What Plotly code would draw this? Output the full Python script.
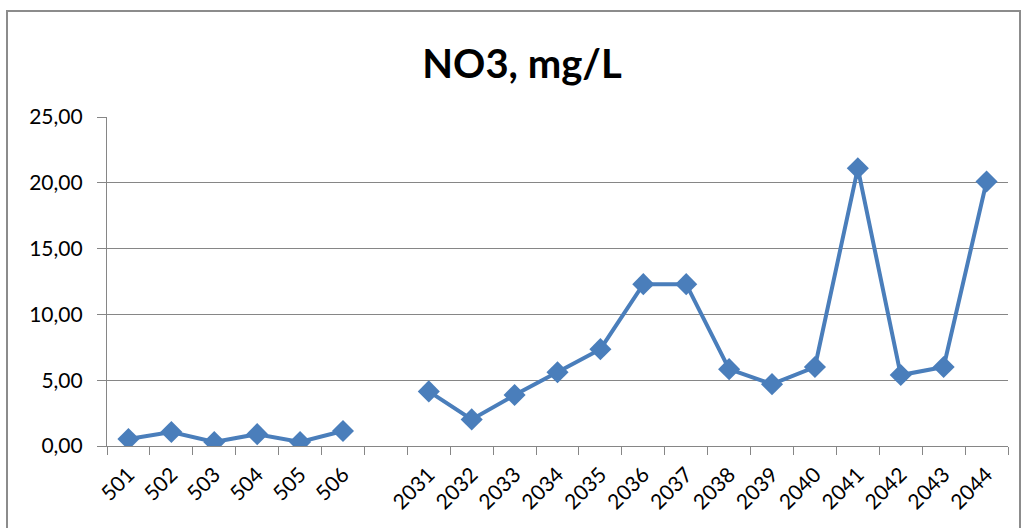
import plotly.graph_objects as go

categories = ["501", "502", "503", "504", "505", "506", " ",
              "2031", "2032", "2033", "2034", "2035", "2036", "2037",
              "2038", "2039", "2040", "2041", "2042", "2043", "2044"]
values = [0.53, 1.06, 0.30, 0.90, 0.30, 1.14, None,
          4.15, 2.02, 3.87, 5.60, 7.36, 12.30, 12.30,
          5.84, 4.70, 6.00, 21.10, 5.39, 6.00, 20.10]
y_ticks = [0, 5, 10, 15, 20, 25]

W, H = 1024, 528
ml, mr, mt, mb = 107, 16, 117, 82
pw, ph = W - ml - mr, H - mt - mb

fig = go.Figure()
fig.add_trace(go.Scatter(
    x=categories, y=values, mode="lines+markers",
    line=dict(color="#4a7ebb", width=4),
    marker=dict(symbol="diamond", size=17, color="#4a7ebb"),
    connectgaps=False, showlegend=False,
))

def px_x(p):
    return (p - ml) / pw

def px_y(p):
    return (H - mb - p) / ph

fig.add_shape(type="rect", xref="paper", yref="paper",
              x0=px_x(7), x1=px_x(1020), y0=px_y(560), y1=px_y(11),
              line=dict(color="#8c8c8c", width=2), layer="below")

FONT = "Lato, Open Sans, sans-serif"
fig.update_layout(
    width=W, height=H,
    margin=dict(l=ml, r=mr, t=mt, b=mb),
    paper_bgcolor="white", plot_bgcolor="white",
    separators=",.",
    title=dict(text="<b>NO3, mg/L</b>", x=522 / W, xanchor="center",
               y=1 - 64 / H, yanchor="middle",
               font=dict(family=FONT, size=40, color="black")),
    xaxis=dict(type="category", categoryorder="array", categoryarray=categories,
               tickangle=-45, tickson="boundaries", ticks="outside", ticklen=8,
               tickcolor="#868686", showline=True, linecolor="#868686", linewidth=1.2,
               showgrid=False, range=[-0.5, len(categories) - 0.5],
               ticklabelstandoff=7,
               tickfont=dict(family=FONT, size=21, color="black")),
    yaxis=dict(range=[0, 25], tickvals=y_ticks, tickformat=".2f",
               ticks="outside", ticklen=9, tickcolor="#868686",
               showline=True, linecolor="#868686", linewidth=1.2,
               showgrid=True, gridcolor="#868686", gridwidth=1, zeroline=False,
               ticklabelstandoff=10,
               tickfont=dict(family=FONT, size=21, color="black")),
)

fig.write_html("out.html")
